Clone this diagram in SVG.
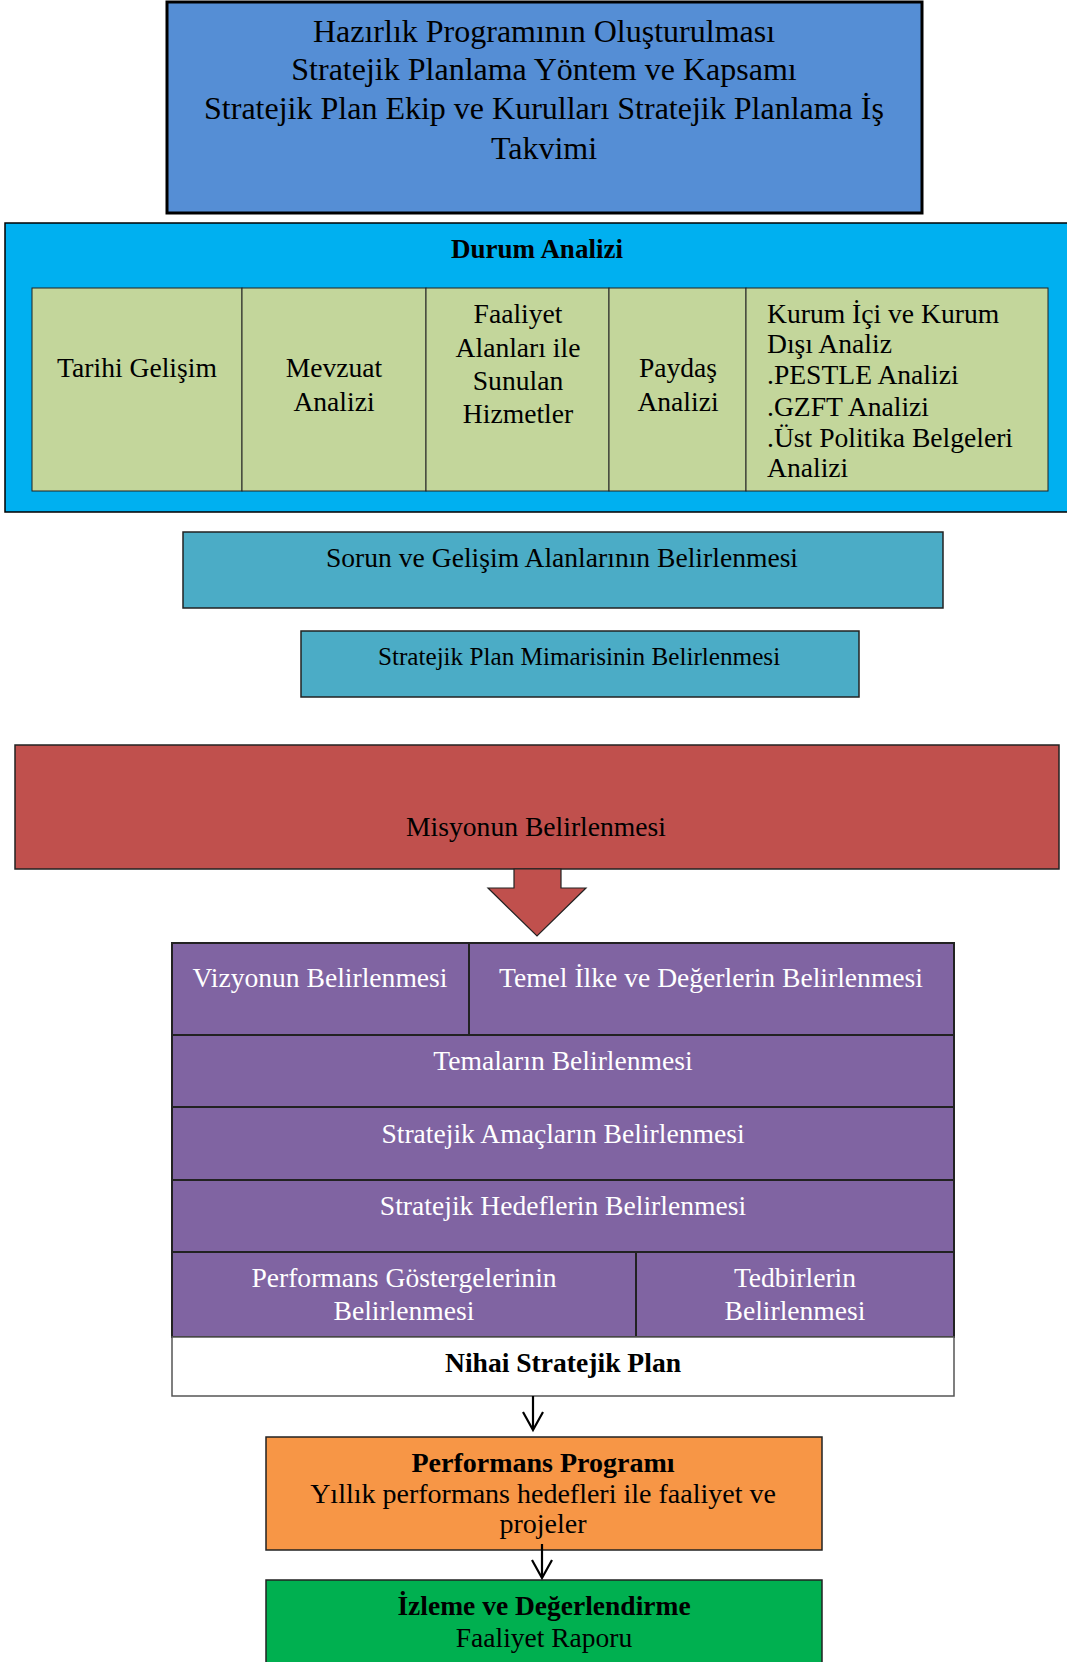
<svg xmlns="http://www.w3.org/2000/svg" width="1067" height="1662" viewBox="0 0 1067 1662">
<style>
text{font-family:"Liberation Serif","Times New Roman",serif;fill:#000;text-anchor:middle}
.c{font-size:27.6px}
.b{font-weight:bold}
.w{fill:#fff}
.l{text-anchor:start}
.cell{fill:#C3D69B;stroke:#222;stroke-width:1}
.pur{fill:#8064A2;stroke:#222;stroke-width:2}
.ln{stroke:#000;stroke-width:2.2;fill:none}
</style>
<rect width="1067" height="1662" fill="#fff"/>
<g id="hazirlik">
<rect x="167" y="2" width="755" height="211" fill="#558ED5" stroke="#000" stroke-width="3"/>
<text x="544" y="42" font-size="32">Hazırlık Programının Oluşturulması</text>
<text x="544" y="80" font-size="32">Stratejik Planlama Yöntem ve Kapsamı</text>
<text x="544" y="119" font-size="32">Stratejik Plan Ekip ve Kurulları Stratejik Planlama İş</text>
<text x="544" y="159" font-size="32">Takvimi</text>
</g>
<g id="durum-analizi">
<rect x="5" y="223" width="1070" height="289" fill="#00B0F0" stroke="#000" stroke-width="1.5"/>
<text x="537" y="258" font-size="27" class="b">Durum Analizi</text>
</g>
<g id="tarihi-gelisim">
<rect class="cell" x="32" y="288" width="210" height="203"/>
<text class="c" x="137" y="377">Tarihi Gelişim</text>
</g>
<g id="mevzuat-analizi">
<rect class="cell" x="242" y="288" width="184" height="203"/>
<text class="c" x="334" y="377">Mevzuat</text>
<text class="c" x="334" y="411">Analizi</text>
</g>
<g id="faaliyet-alanlari">
<rect class="cell" x="426" y="288" width="183" height="203"/>
<text class="c" x="518" y="323">Faaliyet</text>
<text class="c" x="518" y="357">Alanları ile</text>
<text class="c" x="518" y="390">Sunulan</text>
<text class="c" x="518" y="423">Hizmetler</text>
</g>
<g id="paydas-analizi">
<rect class="cell" x="609" y="288" width="137" height="203"/>
<text class="c" x="678" y="377">Paydaş</text>
<text class="c" x="678" y="411">Analizi</text>
</g>
<g id="kurum-ici">
<rect class="cell" x="746" y="288" width="302" height="203"/>
<text class="c l" x="767" y="323">Kurum İçi ve Kurum</text>
<text class="c l" x="767" y="353">Dışı Analiz</text>
<text class="c l" x="767" y="384">.PESTLE Analizi</text>
<text class="c l" x="767" y="416">.GZFT Analizi</text>
<text class="c l" x="767" y="447">.Üst Politika Belgeleri</text>
<text class="c l" x="767" y="477">Analizi</text>
</g>
<g id="sorun-gelisim">
<rect x="183" y="532" width="760" height="76" fill="#4BACC6" stroke="#222" stroke-width="1.5"/>
<text class="c" x="562" y="567">Sorun ve Gelişim Alanlarının Belirlenmesi</text>
</g>
<g id="mimari">
<rect x="301" y="631" width="558" height="66" fill="#4BACC6" stroke="#222" stroke-width="1.5"/>
<text x="579" y="665" font-size="25.2">Stratejik Plan Mimarisinin Belirlenmesi</text>
</g>
<g id="misyon">
<rect x="15" y="745" width="1044" height="124" fill="#C0504D" stroke="#222" stroke-width="1.5"/>
<text class="c" x="536" y="836">Misyonun Belirlenmesi</text>
</g>
<g id="vizyon">
<rect class="pur" x="172" y="943" width="297" height="92"/>
<text class="c w" x="320" y="987">Vizyonun Belirlenmesi</text>
</g>
<g id="temel-ilke">
<rect class="pur" x="469" y="943" width="485" height="92"/>
<text class="c w" x="711" y="987">Temel İlke ve Değerlerin Belirlenmesi</text>
</g>
<g id="temalar">
<rect class="pur" x="172" y="1035" width="782" height="72"/>
<text class="c w" x="563" y="1070">Temaların Belirlenmesi</text>
</g>
<g id="amaclar">
<rect class="pur" x="172" y="1107" width="782" height="73"/>
<text class="c w" x="563" y="1143">Stratejik Amaçların Belirlenmesi</text>
</g>
<g id="hedefler">
<rect class="pur" x="172" y="1180" width="782" height="72"/>
<text class="c w" x="563" y="1215">Stratejik Hedeflerin Belirlenmesi</text>
</g>
<g id="performans-gostergeleri">
<rect class="pur" x="172" y="1252" width="464" height="85"/>
<text class="c w" x="404" y="1287">Performans Göstergelerinin</text>
<text class="c w" x="404" y="1320">Belirlenmesi</text>
</g>
<g id="tedbirler">
<rect class="pur" x="636" y="1252" width="318" height="85"/>
<text class="c w" x="795" y="1287">Tedbirlerin</text>
<text class="c w" x="795" y="1320">Belirlenmesi</text>
</g>
<g id="nihai-plan">
<rect x="172" y="1337" width="782" height="59" fill="#fff" stroke="#555" stroke-width="1.5"/>
<text class="c b" x="563" y="1372">Nihai Stratejik Plan</text>
</g>
<g id="performans-programi">
<rect x="266" y="1437" width="556" height="113" fill="#F79646" stroke="#222" stroke-width="1.5"/>
<text x="543" y="1472" font-size="28" class="b">Performans Programı</text>
<text x="543" y="1503" font-size="28">Yıllık performans hedefleri ile faaliyet ve</text>
<text x="543" y="1533" font-size="28">projeler</text>
</g>
<g id="izleme">
<rect x="266" y="1580" width="556" height="100" fill="#00B050" stroke="#222" stroke-width="1.5"/>
<text x="544" y="1615" font-size="27.5" class="b">İzleme ve Değerlendirme</text>
<text x="544" y="1647" font-size="27.5">Faaliyet Raporu</text>
</g>
<g id="connectors">
<polygon points="514,869 561,869 561,888 586,888 537,936 488,888 514,888" fill="#C0504D" stroke="#222" stroke-width="1.2"/>
<line class="ln" x1="533" y1="1396" x2="533" y2="1429"/>
<polyline class="ln" points="523,1412 533,1430 543,1412"/>
<line class="ln" x1="542" y1="1544" x2="542" y2="1577"/>
<polyline class="ln" points="532,1560 542,1578 552,1560"/>
</g>
</svg>
